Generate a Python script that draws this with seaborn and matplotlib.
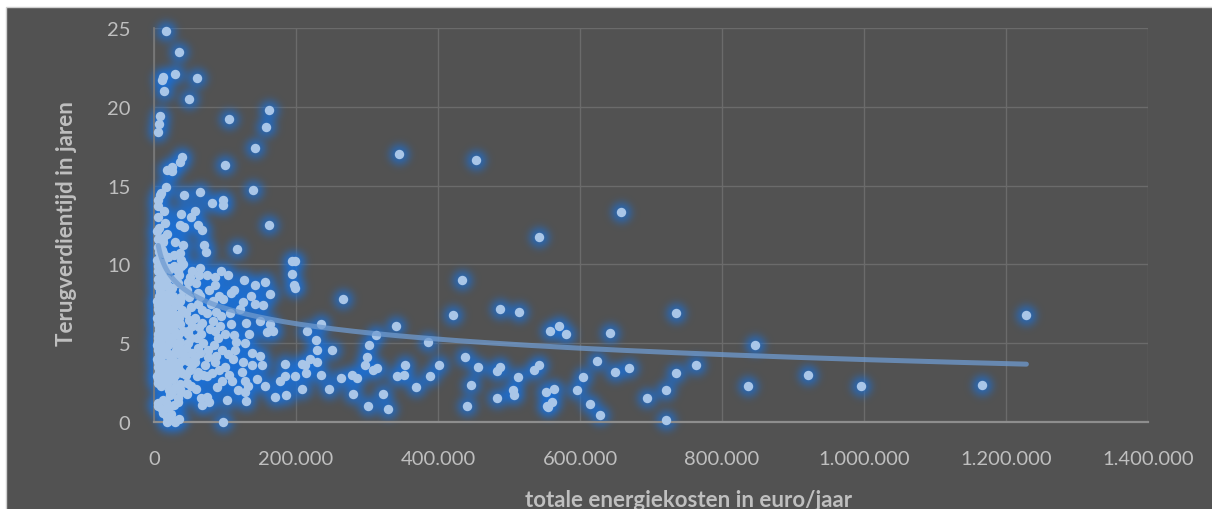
import numpy as np
import pandas as pd
import matplotlib
matplotlib.use("Agg")
import matplotlib.pyplot as plt
from matplotlib.patches import Rectangle
from matplotlib.ticker import FuncFormatter
from matplotlib.colors import to_rgb
import seaborn as sns

# Total energy cost (thousand euro per year) and payback period (years)
COST_UPPER_K = [17.3, 34.8, 29.0, 10.8, 13.0, 61.0, 14.5, 49.7, 8.9, 6.6,
                6.1, 105.6, 162.4, 158.0, 142.0, 17.7, 24.7, 26.0, 37.3, 39.5,
                100.0, 16.9, 9.4, 64.8, 140.0, 5.2, 8.5, 42.7, 82.0, 96.7,
                96.7, 162.0, 14.1, 6.1, 38.5, 57.7, 52.0, 15.5, 6.6, 36.6,
                42.3, 62.5, 67.6, 13.1, 29.6, 41.3, 70.0, 117.0]
PAYBACK_UPPER = [24.8, 23.5, 22.1, 21.7, 21.9, 21.8, 21.0, 20.5, 19.4, 18.9,
                 18.4, 19.2, 19.8, 18.7, 17.4, 16.0, 15.9, 16.2, 16.5, 16.8,
                 16.3, 14.9, 14.5, 14.6, 14.7, 14.1, 14.4, 14.4, 13.9, 14.1,
                 13.8, 12.5, 13.4, 13.7, 13.2, 13.4, 13.0, 12.6, 12.3, 12.5,
                 12.4, 12.5, 12.2, 11.7, 11.4, 11.2, 11.2, 11.0]

COST_LOW_K = [72.6, 6.1, 13.1, 36.6, 38.0, 41.3, 6.1, 10.8, 22.5, 34.3,
              64.8, 74.0, 86.0, 142.0, 156.0, 194.0, 198.0, 195.0, 197.0, 198.6,
              47.4, 33.8,
              8.9, 22.5, 36.6, 62.5, 83.5, 97.6, 109.0, 126.0, 142.0, 154.0, 163.0,
              6.1, 15.5, 34.3, 8.5, 24.6, 48.0, 67.0, 83.5, 74.0, 95.0,
              109.0, 130.0, 149.0, 163.0, 168.0, 159.0, 112.0, 100.7, 86.4,
              6.1, 13.1, 34.3, 48.4, 62.5, 76.6, 95.4, 114.0, 104.6, 88.0,
              57.7, 43.6, 24.6, 6.1, 15.5, 34.3, 53.0, 71.8, 86.0, 100.0,
              111.8, 149.0, 137.5, 123.5, 151.5, 184.5, 208.0,
              6.1, 24.6, 45.8, 60.0, 74.0, 95.4, 109.6, 128.0, 144.5, 156.0,
              177.0, 184.5, 198.6, 208.0,
              22.5, 36.6, 34.3, 74.0, 67.0, 128.0, 130.0, 170.0, 186.0, 6.1,
              13.1, 24.6, 17.8, 29.6, 97.6]
PAYBACK_LOW = [10.8, 11.1, 10.7, 10.7, 10.3, 10.0, 9.9, 9.4, 9.7, 9.6,
               9.8, 9.3, 8.7, 8.7, 8.9, 10.2, 10.2, 9.4, 8.7, 8.5,
               8.9, 8.8,
               8.3, 8.2, 7.7, 8.2, 7.7, 7.8, 8.2, 7.6, 7.5, 7.4, 8.1,
               7.2, 6.8, 6.8, 6.3, 6.2, 5.8, 6.3, 6.4, 6.9, 6.7,
               6.2, 6.3, 6.4, 6.2, 5.8, 5.7, 5.5, 5.6, 5.8,
               5.3, 4.8, 4.8, 5.0, 4.7, 4.6, 4.6, 4.6, 4.3, 4.2,
               4.1, 4.2, 4.0, 3.8, 3.4, 3.6, 3.6, 3.6, 3.8, 3.5,
               4.0, 4.2, 3.6, 3.2, 3.6, 3.7, 3.7,
               2.7, 2.9, 2.5, 2.9, 2.9, 2.6, 2.6, 2.6, 2.7, 2.3,
               2.6, 2.9, 2.9, 2.1,
               1.7, 2.1, 1.5, 1.6, 1.1, 1.9, 1.35, 1.6, 1.7, 1.0,
               0.6, 0.5, 0.0, 0.0, 0.0]

COST_DENSE_K = [5.0, 5.8, 4.6, 6.6, 5.3, 4.8, 6.9, 5.5, 4.7, 6.2,
                5.1, 6.8, 5.6, 4.9, 6.4, 5.4, 4.6, 6.7, 5.2, 6.0,
                5.7, 4.8, 6.5, 5.3, 4.9, 5.9,
                11.0, 12.4, 10.2, 13.5, 11.2, 12.8, 10.5, 13.9, 11.7, 10.1,
                13.2, 11.0, 12.5, 10.4, 13.7, 11.4, 12.9, 10.8, 13.3, 11.9,
                10.6, 13.0, 11.5, 12.2,
                18.5, 20.3, 17.4, 21.5, 19.0, 17.8, 21.0, 18.8, 22.0, 17.2,
                20.4, 19.3, 17.6, 21.8, 18.2, 20.8, 19.6, 17.1, 21.2, 18.7,
                20.1, 17.9, 21.6, 19.2, 18.0,
                26.3, 28.5, 25.6, 30.2, 27.4, 29.6, 25.9, 28.9, 26.8, 30.6,
                27.9, 25.4, 29.1, 26.5, 30.4, 28.1, 25.7, 29.8, 27.2, 26.0,
                29.3, 27.6, 28.8,
                35.5, 33.6, 38.4, 36.2, 40.1, 34.8, 37.9, 33.2, 39.5, 36.8,
                34.0, 40.6, 37.3, 35.1, 39.0, 33.9, 37.7, 40.3, 35.9, 38.7,
                46.5, 52.8, 44.9, 50.1, 48.2, 54.1, 45.7, 51.6, 47.5, 53.4,
                49.3, 44.5, 52.0, 48.8, 46.0, 50.7, 53.9,
                58.5, 66.2, 61.3, 68.9, 57.9, 64.4, 69.5, 60.2, 66.8, 62.7,
                58.1, 68.2, 61.6, 65.0, 59.4, 63.8,
                78.0, 88.5, 81.0, 92.0, 76.5, 84.0, 90.3, 79.2, 93.1, 87.4,
                80.1, 91.5, 77.7, 85.8, 94.5,
                103.0, 118.0, 132.0, 106.0, 125.0, 138.0, 115.0, 128.0, 134.0, 107.0,
                121.0, 136.0, 112.0, 127.0, 104.0]
PAYBACK_DENSE = [1.2, 2.5, 2.9, 3.2, 3.5, 4.0, 4.3, 4.6, 4.9, 5.1,
                 5.6, 5.9, 6.2, 6.6, 7.0, 7.4, 7.7, 8.0, 8.6, 9.1,
                 9.6, 10.3, 10.8, 11.6, 12.1, 13.0,
                 0.8, 1.4, 2.3, 2.7, 3.1, 3.6, 3.9, 4.3, 4.7, 5.0,
                 5.4, 5.8, 6.1, 6.5, 6.9, 7.3, 7.8, 8.1, 8.6, 9.0,
                 9.6, 10.1, 10.9, 11.4,
                 0.3, 0.9, 1.3, 2.0, 2.4, 2.8, 3.2, 3.7, 4.1, 4.5,
                 4.9, 5.3, 5.6, 5.9, 6.3, 6.6, 7.0, 7.4, 7.7, 8.1,
                 8.6, 9.1, 9.8, 10.5, 11.9,
                 0.1, 1.1, 1.9, 2.2, 2.7, 3.0, 3.4, 3.8, 4.3, 4.6,
                 5.0, 5.4, 5.7, 6.0, 6.4, 6.8, 7.2, 7.6, 8.0, 8.5,
                 9.1, 9.9, 10.6,
                 0.2, 1.3, 1.9, 2.4, 3.1, 3.3, 3.9, 4.4, 4.6, 5.1,
                 5.5, 5.8, 6.2, 6.6, 7.1, 7.4, 7.9, 8.4, 9.3, 9.9,
                 1.8, 2.3, 3.0, 3.3, 3.9, 4.4, 4.7, 5.3, 5.6, 6.1,
                 6.5, 6.9, 7.3, 7.9, 8.4, 9.2, 9.6,
                 2.1, 1.5, 3.2, 3.0, 3.8, 4.4, 5.0, 5.3, 5.6, 6.0,
                 6.6, 7.1, 7.5, 8.0, 8.8, 9.3,
                 1.3, 2.2, 3.1, 3.3, 4.1, 4.9, 5.3, 5.9, 6.1, 7.0,
                 7.5, 8.0, 8.4, 9.2, 9.6,
                 1.4, 2.0, 2.3, 3.0, 3.8, 4.4, 5.1, 5.0, 5.6, 6.9,
                 7.2, 8.0, 8.4, 9.0, 9.3]

COST_HIGH_K = [345.6, 453.5, 542.7, 266.6, 433.4, 421.6, 487.3, 514.6, 557.7, 234.8,
               215.0, 228.0, 230.0, 251.0, 340.8, 312.7, 303.0, 386.0, 300.0, 297.6,
               313.7, 308.0, 353.0, 352.5, 342.0, 401.8, 388.7, 368.6, 323.0, 301.0,
               329.6, 279.0, 285.5, 263.0, 279.8, 247.0, 234.8, 214.5, 219.7, 212.0,
               230.0, 438.5, 456.0, 446.0, 440.4, 487.0, 482.6, 513.0, 482.6, 506.0,
               507.0, 535.6, 542.7, 552.0, 553.0,
               658.0, 735.0, 571.0, 580.0, 642.0, 847.0, 921.0, 836.0, 764.0, 735.0,
               721.0, 694.0, 721.0, 623.5, 649.7, 668.6, 604.6, 596.0, 614.0, 628.0,
               563.4, 560.6, 555.4, 1228.7, 996.0, 1166.0]
PAYBACK_HIGH = [17.0, 16.6, 11.75, 7.8, 9.0, 6.8, 7.2, 7.0, 5.8, 6.2,
                5.8, 5.2, 4.6, 4.6, 6.1, 5.5, 4.9, 5.1, 4.1, 3.6,
                3.4, 3.3, 3.6, 3.0, 2.9, 3.6, 2.9, 2.2, 1.8, 1.0,
                0.85, 3.0, 2.8, 2.8, 1.8, 2.1, 3.0, 3.1, 4.0, 3.6,
                3.8, 4.1, 3.5, 2.35, 1.0, 3.5, 3.25, 2.85, 1.55, 2.05,
                1.7, 3.3, 3.6, 1.9, 1.0,
                13.3, 6.9, 6.1, 5.6, 5.65, 4.9, 3.0, 2.3, 3.6, 3.1,
                2.05, 1.55, 0.15, 3.9, 3.2, 3.4, 2.85, 2.0, 1.15, 0.45,
                2.1, 1.3, 0.97, 6.8, 2.3, 2.35]

# Logarithmic trend line: payback = TREND_INTERCEPT + TREND_SLOPE * ln(cost)
TREND_INTERCEPT = 23.51
TREND_SLOPE = -1.415
TREND_START = 6000.0

X_TICKS = [0, 200000, 400000, 600000, 800000, 1000000, 1200000, 1400000]
Y_TICKS = [0, 5, 10, 15, 20, 25]
X_LABEL = "totale energiekosten in euro/jaar"
Y_LABEL = "Terugverdientijd in jaren"

cost_k = COST_UPPER_K + COST_LOW_K + COST_DENSE_K + COST_HIGH_K
payback = PAYBACK_UPPER + PAYBACK_LOW + PAYBACK_DENSE + PAYBACK_HIGH
assert len(cost_k) == len(payback)
df = pd.DataFrame({"kosten": np.array(cost_k) * 1000.0, "jaren": payback})

BG = "#525252"
TXT = "#bfbfbf"
GLOW = "#1a70d8"


def soft_glow(sigma_px=3.0, gain=1.0, color=GLOW):
    """agg filter: gaussian-blur the alpha channel and tint it."""
    rgb = np.array(to_rgb(color))

    def _filter(img, dpi):
        r = int(np.ceil(3 * sigma_px))
        k = np.exp(-0.5 * (np.arange(-r, r + 1) / sigma_px) ** 2)
        k /= k.sum()
        a = np.pad(img[..., 3], r)
        a = np.apply_along_axis(lambda m: np.convolve(m, k, mode="same"), 0, a)
        a = np.apply_along_axis(lambda m: np.convolve(m, k, mode="same"), 1, a)
        out = np.empty(a.shape + (4,))
        out[..., :3] = rgb
        out[..., 3] = np.clip(a * gain, 0, 1)
        return out, -r, -r

    return _filter


sns.set_theme(style="dark")
plt.rcParams["font.family"] = ["Lato", "DejaVu Sans"]

W, H = 1212, 510
fig = plt.figure(figsize=(W / 100, H / 100), dpi=100, facecolor="white")
fig.patches.append(Rectangle((6 / W, -0.01), 1.0, 1 - 8 / H + 0.01,
                             transform=fig.transFigure, facecolor=BG,
                             edgecolor="#d0d0d0", lw=1.0, zorder=-5))
ax = fig.add_axes([154 / W, 87 / H, 994 / W, 394 / H])
ax.set_facecolor(BG)

# blurred halo layer beneath the markers
sns.scatterplot(data=df, x="kosten", y="jaren", s=200, color=GLOW,
                alpha=0.75, linewidth=0, ax=ax, clip_on=False, zorder=2,
                legend=False)
halo = ax.collections[-1]
halo.set_agg_filter(soft_glow())
halo.set_rasterized(True)

sns.scatterplot(data=df, x="kosten", y="jaren", s=46, color="#a9c6e8",
                linewidth=0, ax=ax, clip_on=False, zorder=3, legend=False)

# trend line over the cost range
grid = np.geomspace(TREND_START, df["kosten"].max(), 300)
sns.lineplot(x=grid, y=TREND_INTERCEPT + TREND_SLOPE * np.log(grid),
             color="#6f9bd0", alpha=0.75, lw=3.6, ax=ax, zorder=4,
             solid_capstyle="round")

ax.set_xlim(0, 1400000)
ax.set_ylim(0, 25)
ax.set_xticks(X_TICKS)
ax.set_yticks(Y_TICKS)
ax.xaxis.set_major_formatter(FuncFormatter(lambda v, p: f"{int(round(v)):,}".replace(",", ".")))
ax.set_axisbelow(True)
ax.grid(True, color="#6b6b6b", lw=1.0)
for side in ("top", "right"):
    ax.spines[side].set_visible(False)
ax.spines["left"].set_color("#7a7a7a")
ax.spines["left"].set_linewidth(1.2)
ax.spines["bottom"].set_color("#8e8e8e")
ax.spines["bottom"].set_linewidth(1.6)
ax.tick_params(axis="both", length=0, colors=TXT, labelsize=14.5)
ax.tick_params(axis="x", pad=20)
ax.tick_params(axis="y", pad=17)
ax.set_xlabel("")
ax.set_ylabel("")

fig.text(0.568, 0.006, X_LABEL, ha="center", va="baseline", fontsize=16,
         fontweight="bold", color=TXT)
fig.text(0.055, 0.562, Y_LABEL, ha="center", va="center", rotation=90,
         fontsize=16, fontweight="bold", color=TXT)

fig.savefig("out.png", dpi=100, facecolor=fig.get_facecolor())
